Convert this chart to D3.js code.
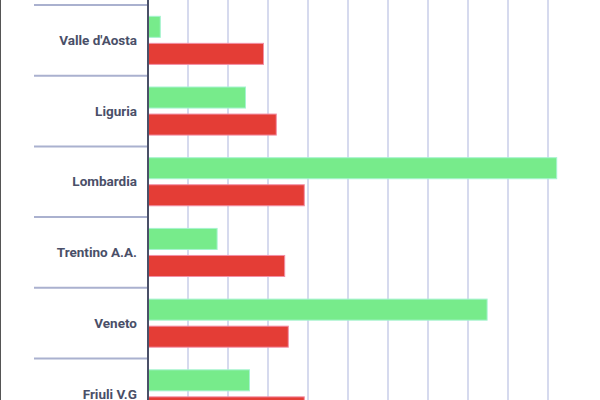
<!DOCTYPE html>
<html>
<head>
<meta charset="utf-8">
<script src="https://cdn.jsdelivr.net/npm/d3@7"></script>
<style>
  html, body { margin: 0; padding: 0; background: #fff; }
  svg { display: block; }
</style>
</head>
<body>
<svg id="chart"></svg>
<script>
// regions shown in this slice of the chart
const regions = ['Valle d\'Aosta', 'Liguria', 'Lombardia', 'Trentino A.A.', 'Veneto', 'Friuli V.G'];
const seriesNames = ['green', 'red'];
const greenValues = [32, 245, 1023, 174, 849, 255];
const redValues = [290, 322, 392, 343, 352, 392];
const gridTicks = [100, 200, 300, 400, 500, 600, 700, 800, 900, 1000];

const width = 600;
const height = 400;

const svg = d3.select('#chart')
  .attr('width', width)
  .attr('height', height);

// Scales
const x = d3.scaleLinear().domain([0, 1000]).range([148, 548]);
const y = d3.scaleBand().domain(regions).range([5, 5 + regions.length * 70.7]);
const ySub = d3.scaleBand().domain(seriesNames).range([0, y.bandwidth()])
  .paddingInner(0.185).paddingOuter(0.4);

const colors = { green: '#77eb8b', red: '#e43d36' };
const strokes = { green: '#a6f3d0', red: '#f290a6' };

// left frame edge
svg.append('line')
  .attr('x1', 0.5).attr('x2', 0.5).attr('y1', 0).attr('y2', height)
  .attr('stroke', '#555').attr('stroke-width', 1);

// vertical grid lines
svg.append('g')
  .selectAll('line')
  .data(gridTicks)
  .enter()
  .append('line')
  .attr('x1', d => x(d)).attr('x2', d => x(d))
  .attr('y1', 0).attr('y2', height)
  .attr('stroke', '#c9cee9')
  .attr('stroke-width', 1.5);

// category separators
svg.append('g')
  .selectAll('line')
  .data(regions.concat(['end']))
  .enter()
  .append('line')
  .attr('x1', 34).attr('x2', x(0))
  .attr('y1', (d, i) => y.range()[0] + i * y.step())
  .attr('y2', (d, i) => y.range()[0] + i * y.step())
  .attr('stroke', '#aab1cf')
  .attr('stroke-width', 2);

// bars
const rows = regions.map((r, i) => ({ region: r, green: greenValues[i], red: redValues[i] }));
const groups = svg.append('g')
  .selectAll('g')
  .data(rows)
  .enter()
  .append('g')
  .attr('transform', d => `translate(0, ${y(d.region)})`);

groups.selectAll('rect')
  .data(d => seriesNames.map(s => ({ key: s, value: d[s] })))
  .enter()
  .append('rect')
  .attr('x', x(0))
  .attr('y', d => ySub(d.key) + 0.5)
  .attr('width', d => x(d.value) - x(0) - 0.5)
  .attr('height', ySub.bandwidth() - 1)
  .attr('fill', d => colors[d.key])
  .attr('stroke', d => strokes[d.key])
  .attr('stroke-width', 1);

// labels
svg.append('g')
  .selectAll('text')
  .data(regions)
  .enter()
  .append('text')
  .attr('x', 137)
  .attr('y', d => y(d) + y.bandwidth() / 2)
  .attr('dy', '0.35em')
  .attr('text-anchor', 'end')
  .attr('font-family', 'Roboto, sans-serif')
  .attr('font-weight', 'bold')
  .attr('font-size', 13.5)
  .attr('fill', '#4a4f68')
  .text(d => d);

// y axis line
svg.append('line')
  .attr('x1', x(0)).attr('x2', x(0))
  .attr('y1', 0).attr('y2', height)
  .attr('stroke', '#4a5068')
  .attr('stroke-width', 2);
</script>
</body>
</html>
